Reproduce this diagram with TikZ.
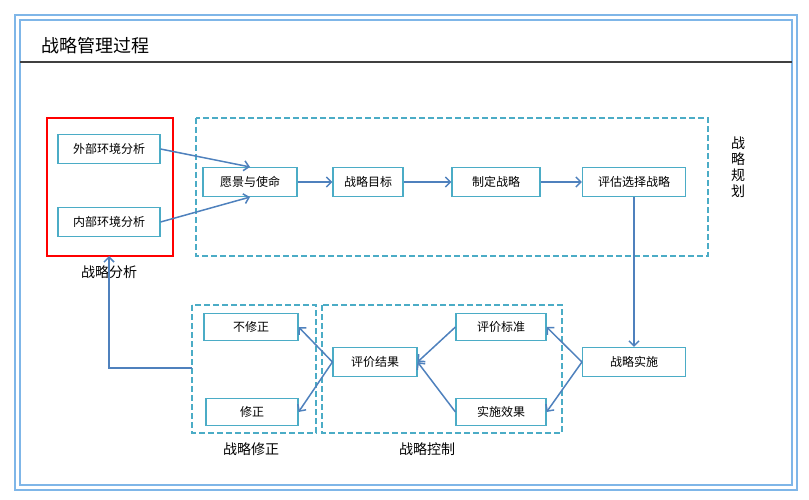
\documentclass[tikz,border=0pt]{standalone}
\usepackage{fontspec}
\setmainfont{Noto Sans CJK SC}
\usetikzlibrary{arrows.meta}
\definecolor{boxline}{HTML}{4BACC6}
\definecolor{arrowline}{HTML}{4F81BD}
\definecolor{frameline}{HTML}{7FB6E8}
\tikzset{
  box/.style={draw=boxline, line width=1.1pt, fill=white, minimum height=29pt, font=\fontsize{12}{14}\selectfont, inner sep=0pt},
  region/.style={draw=boxline, line width=1.5pt, dash pattern=on 6pt off 3pt},
  link/.style={draw=arrowline, line width=1.5pt, -{Straight Barb[length=5pt, width=10pt]}},
  caption/.style={font=\fontsize{14}{16}\selectfont}
}
\begin{document}
\begin{tikzpicture}[x=1pt,y=-1pt]
\useasboundingbox (0,0) rectangle (809,500);
% frame and title
\draw[frameline, line width=2.5pt] (15,15) rectangle (797,490);
\draw[frameline, line width=1.5pt] (20,20) rectangle (792,485);
\node[anchor=west, font=\fontsize{18}{20}\selectfont] (title) at (38,46) {战略管理过程};
\draw[black!75, line width=1.5pt] (20,62) -- (792,62);
% regions
\draw[red, line width=2.5pt] (47,118) rectangle (173,256);
\draw[region] (196,118) rectangle (708,256);
\draw[region] (192,305) rectangle (316,433);
\draw[region] (322,305) rectangle (562,433);
\node[caption] (analysis) at (109,272) {战略分析};
\node[caption, align=center, font=\fontsize{14}{16}\selectfont] (planning) at (738,167) {战\\略\\规\\划};
\node[caption] (revise) at (251,449) {战略修正};
\node[caption] (control) at (427,449) {战略控制};
% boxes
\node[box, minimum width=102pt] (ext) at (109,149) {外部环境分析};
\node[box, minimum width=102pt] (int) at (109,222) {内部环境分析};
\node[box, minimum width=94pt] (vision) at (250,182) {愿景与使命};
\node[box, minimum width=70pt] (goal) at (368,182) {战略目标};
\node[box, minimum width=88pt] (make) at (496,182) {制定战略};
\node[box, minimum width=103pt] (select) at (634,182) {评估选择战略};
\node[box, minimum width=103pt] (impl) at (634,362) {战略实施};
\node[box, minimum width=90pt, minimum height=27pt] (std) at (501,327) {评价标准};
\node[box, minimum width=90pt, minimum height=27pt] (effect) at (501,412) {实施效果};
\node[box, minimum width=84pt] (result) at (375,362) {评价结果};
\node[box, minimum width=94pt, minimum height=27pt] (norev) at (251,327) {不修正};
\node[box, minimum width=92pt, minimum height=27pt] (rev) at (252,412) {修正};
\coordinate (back) at (192,368);
% connectors
\draw[link] (ext.east) -- (vision.north);
\draw[link] (int.east) -- (vision.south);
\draw[link] (vision) -- (goal);
\draw[link] (goal) -- (make);
\draw[link] (make) -- (select);
\draw[link] (select) -- (impl);
\draw[link] (impl.west) -- (std.east);
\draw[link] (impl.west) -- (effect.east);
\draw[link] (std.west) -- (result.east);
\draw[link] (effect.west) -- (result.east);
\draw[link] (result.west) -- (norev.east);
\draw[link] (result.west) -- (rev.east);
\draw[link] (back) -| (109,256);
\end{tikzpicture}
\end{document}
